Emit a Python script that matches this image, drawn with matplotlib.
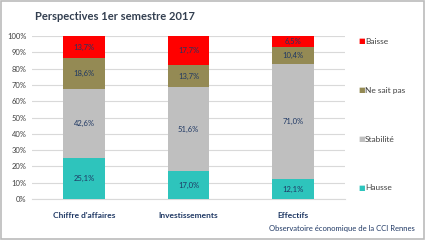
import matplotlib
matplotlib.use("Agg")
import matplotlib.pyplot as plt
import numpy as np

plt.rcParams['font.family'] = ['Lato', 'DejaVu Sans']

categories = ["Chiffre d'affaires", "Investissements", "Effectifs"]
series_names = ["Hausse", "Stabilité", "Ne sait pas", "Baisse"]
hausse = [25.1, 17.0, 12.1]
stabilite = [42.6, 51.6, 71.0]
ne_sait_pas = [18.6, 13.7, 10.4]
baisse = [13.7, 17.7, 6.5]
colors = ["#2EC4BC", "#BFBFBF", "#948A54", "#FF0000"]
yticks = [0, 10, 20, 30, 40, 50, 60, 70, 80, 90, 100]

fig = plt.figure(figsize=(4.25, 2.4), dpi=100)
fig.patch.set_facecolor("white")
# border
fig.add_artist(plt.Rectangle((0.003, 0.005), 0.994, 0.99, transform=fig.transFigure,
                             fill=False, edgecolor="#BBBBBB", linewidth=1.2))

ax = fig.add_axes([32/425, 1-199/240, (345-32)/425, (199-36)/240])
x = np.arange(len(categories))
data = [hausse, stabilite, ne_sait_pas, baisse]
bottom = np.zeros(len(categories))
for vals, col, name in zip(data, colors, series_names):
    vals = np.array(vals)
    ax.bar(x, vals, width=0.4, bottom=bottom, color=col, label=name, zorder=3)
    for xi, v, b in zip(x, vals, bottom):
        ax.text(xi, b + v/2, f"{v:.1f}%".replace('.', ','), ha='center', va='center',
                fontsize=5.5, color="#1F3864", zorder=4)
    bottom += vals

ax.set_xlim(-0.5, 2.5)
ax.set_ylim(0, 100)
ax.set_yticks(yticks)
ax.set_yticklabels([f"{t}%" for t in yticks], fontsize=5.5, color="#404040")
ax.set_xticks(x)
ax.set_xticklabels(categories, fontsize=6, color="#1F3864", fontweight='bold')
ax.tick_params(axis='both', length=0, pad=4)
ax.tick_params(axis='x', pad=9)
ax.yaxis.grid(True, color="#D9D9D9", linewidth=0.8, zorder=0)
for s in ["top", "right", "left"]:
    ax.spines[s].set_visible(False)
ax.spines["bottom"].set_color("#D9D9D9")

# legend
leg_y = [41, 90, 139, 188]
for name, col, yy in zip(series_names[::-1], colors[::-1], leg_y):
    fig.text(358/425, 1-yy/240, "■", fontsize=5, color=col, va='center', ha='left',
             family='DejaVu Sans')
    fig.text(365/425, 1-yy/240, name, fontsize=6, color="#404040", va='center', ha='left')

fig.text(35/425, 1-17/240, "Perspectives 1er semestre 2017", fontsize=8, fontweight='bold',
         color="#333F50", va='center', ha='left')
fig.text(415/425, 1-229/240, "Observatoire économique de la CCI Rennes", fontsize=5.5,
         color="#1F3864", va='center', ha='right')

fig.savefig("out.png", dpi=100, facecolor="white")
